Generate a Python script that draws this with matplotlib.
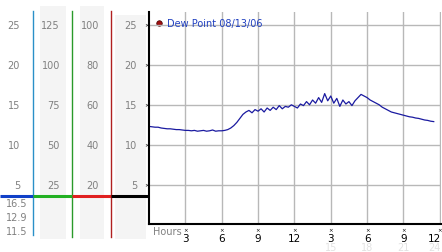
import numpy as np
import matplotlib.pyplot as plt

# dew point readings, every 15 minutes from midnight
dew = [12.3, 12.25, 12.2, 12.2, 12.1, 12.05, 12.0, 12.0, 11.95, 11.9, 11.9, 11.85,
       11.8, 11.8, 11.75, 11.8, 11.7, 11.75, 11.8, 11.7, 11.75, 11.85, 11.7, 11.75,
       11.75, 11.8, 11.9, 12.1, 12.4, 12.8, 13.3, 13.8, 14.1, 14.3, 14.0, 14.4,
       14.2, 14.5, 14.1, 14.6, 14.3, 14.7, 14.4, 14.9, 14.5, 14.8, 14.7, 15.0,
       14.8, 14.6, 15.1, 14.9, 15.4, 15.0, 15.6, 15.2, 15.9, 15.3, 16.4, 15.5,
       16.1, 15.2, 15.8, 14.8, 15.6, 15.1, 15.4, 14.9, 15.5, 15.9, 16.3, 16.1,
       15.9, 15.6, 15.4, 15.2, 15.0, 14.7, 14.5, 14.3, 14.1, 14.0, 13.9, 13.8,
       13.7, 13.6, 13.5, 13.45, 13.35, 13.3, 13.2, 13.1, 13.05, 12.95, 12.9]
hours = np.arange(len(dew)) * 0.25

yticks = [5, 10, 15, 20, 25]
col1 = ["5", "10", "15", "20", "25"]
col2 = ["25", "50", "75", "100", "125"]
col3 = ["20", "40", "60", "80", "100"]
col4 = ["5", "10", "15", "20", "25"]
stats = ["16.5", "12.9", "11.5"]
xticks = [3, 6, 9, 12, 15, 18, 21, 24]
xlabels = ["3", "6", "9", "12", "3", "6", "9", "12"]
faint = {15: "15", 18: "18", 21: "21", 24: "24"}

W, H = 442, 253
fig = plt.figure(figsize=(W / 100, H / 100), dpi=100)

# left side panel drawn in pixel space
bg = fig.add_axes([0, 0, 1, 1])
bg.set_xlim(0, W)
bg.set_ylim(H, 0)
bg.axis('off')

for x0, x1, y0 in [(40, 66, 7), (80, 104, 7), (115, 146, 16)]:
    bg.fill_between([x0, x1], y0, 240, color='#f4f4f4', lw=0)

bg.plot([33, 33], [12, 236], color='#2a90c8', lw=1)
bg.plot([72, 72], [12, 238], color='#2a9a2a', lw=1)
bg.plot([111, 111], [12, 238], color='#b02020', lw=1)

bg.plot([0, 33], [197, 197], color='#1040c8', lw=2.2, solid_capstyle='butt')
bg.plot([33, 72], [197, 197], color='#22b022', lw=2.2, solid_capstyle='butt')
bg.plot([72, 111], [197, 197], color='#e02020', lw=2.2, solid_capstyle='butt')
bg.plot([111, 149], [197, 197], color='black', lw=2.2, solid_capstyle='butt')

gray = '#808080'
for i, v in enumerate(yticks):
    py = 226 - 8 * v
    bg.text(20, py, col1[i], ha='right', va='center', fontsize=7, color=gray)
    bg.text(60, py, col2[i], ha='right', va='center', fontsize=7, color=gray)
    bg.text(99, py, col3[i], ha='right', va='center', fontsize=7, color=gray)
    bg.text(137, py, col4[i], ha='right', va='center', fontsize=7, color=gray)
    bg.text(147, py, "×", ha='center', va='center', fontsize=4, color='black')

for s, py in zip(stats, [204, 218, 232]):
    bg.text(27, py, s, ha='right', va='center', fontsize=7, color=gray)

# main chart
ax = fig.add_axes([149 / W, (H - 225) / H, (441 - 149) / W, (225 - 13) / H])
ax.set_xlim(0, 24.1)
ax.set_ylim(0.1, 26.6)
ax.set_facecolor('none')
ax.set_xticks(xticks)
ax.set_yticks(yticks)
ax.set_xticklabels([])
ax.set_yticklabels([])
ax.tick_params(length=0)
ax.grid(True, color='#b8b8b8', lw=1)
for sp in ['top', 'right']:
    ax.spines[sp].set_visible(False)
ax.spines['left'].set_linewidth(1.5)
ax.spines['bottom'].set_linewidth(1.5)

ax.plot(hours, dew, color='#1a1aa0', lw=0.9)

tr = ax.get_xaxis_transform()
for x, lab in zip(xticks, xlabels):
    last = x == xticks[-1]
    ha = 'right' if last else 'center'
    xx = x + 0.1 if last else x
    ax.text(x, -0.028, "×", transform=tr, ha='center', va='center', fontsize=4, clip_on=False)
    ax.text(xx, -0.065, lab, transform=tr, ha=ha, va='center', fontsize=7.5, clip_on=False)
    if x in faint:
        ax.text(xx, -0.108, faint[x], transform=tr, ha=ha, va='center',
                fontsize=7, color='#e2e2e2', clip_on=False)
ax.text(0.012, -0.035, "Hours", transform=ax.transAxes, ha='left', va='center',
        fontsize=7, color=gray, clip_on=False)

# legend entry
ax.scatter([0.035], [0.95], s=16, color='#a01010', edgecolor='#400000', lw=0.5,
           transform=ax.transAxes, clip_on=False)
ax.text(0.06, 0.95, "Dew Point 08/13/06", transform=ax.transAxes, ha='left', va='center',
        fontsize=7, color='#2040c0')

fig.savefig('out.png', dpi=100)
